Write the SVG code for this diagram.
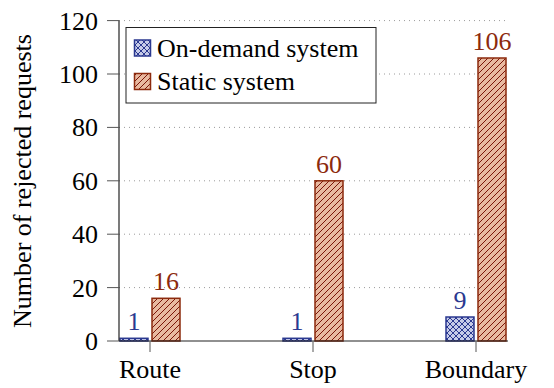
<svg xmlns="http://www.w3.org/2000/svg" width="554" height="388" viewBox="0 0 554 388">
<defs>
<pattern id="cross" patternUnits="userSpaceOnUse" width="6" height="6">
<rect width="6" height="6" fill="#c6cbe8"/>
<path d="M0,0 L6,6 M6,0 L0,6" stroke="#2b3990" stroke-width="1"/>
</pattern>
<pattern id="diag" patternUnits="userSpaceOnUse" width="6" height="6">
<rect width="6" height="6" fill="#e8b9a0"/>
<path d="M-1,7 L7,-1 M-1,1 L1,-1 M5,7 L7,5" stroke="#7a1508" stroke-width="1"/>
</pattern>
</defs>
<rect width="554" height="388" fill="#fff"/>
<g id="grid" stroke="#9a9a9a" stroke-width="1" stroke-dasharray="1 4">
<line x1="119" y1="287.6" x2="508" y2="287.6"/>
<line x1="119" y1="234.2" x2="508" y2="234.2"/>
<line x1="119" y1="180.8" x2="508" y2="180.8"/>
<line x1="119" y1="127.4" x2="508" y2="127.4"/>
<line x1="119" y1="74" x2="508" y2="74"/>
<line x1="119" y1="20.6" x2="508" y2="20.6"/>
</g>
<g id="bars" stroke-width="1.5">
<rect fill="url(#cross)" stroke="#2b3990" x="120" y="338.3" width="28" height="2.7"/>
<rect fill="url(#diag)" stroke="#8c2a0d" x="152" y="298.3" width="28" height="42.7"/>
<rect fill="url(#cross)" stroke="#2b3990" x="283" y="338.3" width="28" height="2.7"/>
<rect fill="url(#diag)" stroke="#8c2a0d" x="315" y="180.8" width="28" height="160.2"/>
<rect fill="url(#cross)" stroke="#2b3990" x="446" y="317" width="28" height="24"/>
<rect fill="url(#diag)" stroke="#8c2a0d" x="478" y="58" width="28" height="283"/>
</g>
<g id="axes">
<line x1="119" y1="20.6" x2="119" y2="341" stroke="#222" stroke-width="1.2"/>
<line x1="119" y1="341" x2="508" y2="341" stroke="#222" stroke-width="1.2"/>
<g stroke="#555" stroke-width="1">
<line x1="107" y1="341" x2="119" y2="341"/>
<line x1="107" y1="287.6" x2="119" y2="287.6"/>
<line x1="107" y1="234.2" x2="119" y2="234.2"/>
<line x1="107" y1="180.8" x2="119" y2="180.8"/>
<line x1="107" y1="127.4" x2="119" y2="127.4"/>
<line x1="107" y1="74" x2="119" y2="74"/>
<line x1="107" y1="20.6" x2="119" y2="20.6"/>
<line x1="150" y1="341" x2="150" y2="352"/>
<line x1="313" y1="341" x2="313" y2="352"/>
<line x1="476" y1="341" x2="476" y2="352"/>
</g>
<g font-family="Liberation Serif" font-size="26" fill="#000" text-anchor="end">
<text x="98" y="350">0</text>
<text x="98" y="296.6">20</text>
<text x="98" y="243.2">40</text>
<text x="98" y="189.8">60</text>
<text x="98" y="136.4">80</text>
<text x="98" y="83">100</text>
<text x="98" y="29.6">120</text>
</g>
<g font-family="Liberation Serif" font-size="26" fill="#000" text-anchor="middle">
<text x="150" y="378">Route</text>
<text x="313" y="378">Stop</text>
<text x="476" y="378">Boundary</text>
<text transform="translate(31,181) rotate(-90)">Number of rejected requests</text>
</g>
</g>
<g id="values" font-family="Liberation Serif" font-size="26" text-anchor="middle">
<text fill="#2b3990" x="134" y="330">1</text>
<text fill="#8c2a0d" x="166" y="290">16</text>
<text fill="#2b3990" x="297" y="330">1</text>
<text fill="#8c2a0d" x="329" y="172.5">60</text>
<text fill="#2b3990" x="460" y="308.5">9</text>
<text fill="#8c2a0d" x="492" y="49.5">106</text>
</g>
<g id="legend" font-family="Liberation Serif" font-size="26" fill="#000">
<rect x="126" y="27.5" width="250" height="75.5" fill="#fff" stroke="#222" stroke-width="1"/>
<rect fill="url(#cross)" stroke="#2b3990" stroke-width="1.5" x="134.5" y="40" width="16" height="16"/>
<text x="157" y="56.5">On-demand system</text>
<rect fill="url(#diag)" stroke="#8c2a0d" stroke-width="1.5" x="134.5" y="73.5" width="16" height="16"/>
<text x="157" y="90">Static system</text>
</g>
</svg>
